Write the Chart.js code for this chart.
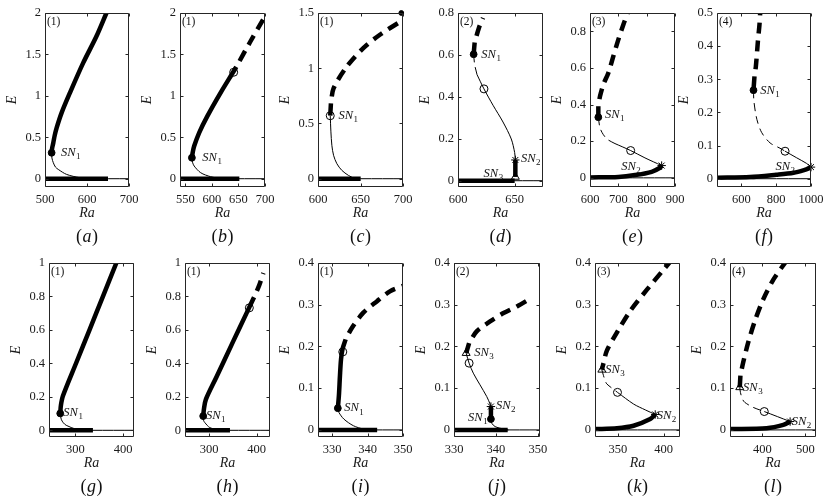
<!DOCTYPE html>
<html>
<head>
<meta charset="utf-8">
<script src="https://cdn.jsdelivr.net/npm/chart.js@4.4.1/dist/chart.umd.min.js"></script>
<style>
  body { margin: 0; background: #fff; width: 831px; height: 504px; position: relative; overflow: hidden; }
  canvas { position: absolute; }
</style>
</head>
<body>
<script>
/* ---- data: [Ra, E] pairs ---- */

// (a)
const aRange = [500, 700, -0.1, 2];
const aTicksX = [500, 600, 700];
const aTicksY = [0, 0.5, 1, 1.5, 2];
const aUpper = [[515.8, 0.313], [517, 0.37], [519.8, 0.434], [523, 0.52], [527.7, 0.614], [539.5, 0.795], [559.3, 1.036], [590.9, 1.398], [622.5, 1.719], [646.2, 2.0]];
const aLower = [[515.8, 0.313], [516.5, 0.25], [519.8, 0.193], [525, 0.14], [531.6, 0.112], [551.4, 0.052], [583, 0.012], [607, 0]];
const aBase = [[500, 0], [650, 0]];
const aSN1 = [515.8, 0.313];

// (b)
const bRange = [540, 700, -0.1, 2];
const bTicksX = [550, 600, 650, 700];
const bTicksY = [0, 0.5, 1, 1.5, 2];
const bUpper = [[562.4, 0.253], [564, 0.32], [566.7, 0.394], [576, 0.554], [591.5, 0.755], [616.3, 1.036], [641.1, 1.297], [646, 1.35]];
const bUpperDash = [[646, 1.35], [672, 1.65], [700, 1.96]];
const bLower = [[562.4, 0.253], [563.5, 0.2], [566.7, 0.153], [579, 0.072], [597.7, 0.024], [616, 0]];
const bBase = [[540, 0], [651.7, 0]];
const bSN1 = [562.4, 0.253];
const bHopf = [641, 1.285];

// (c)
const cRange = [600, 700, -0.075, 1.5];
const cTicksX = [600, 650, 700];
const cTicksY = [0, 0.5, 1, 1.5];
const cUpper = [[614.4, 0.57], [615.2, 0.682]];
const cUpperDash = [[615.2, 0.682], [618.3, 0.818], [633.9, 1.015], [653.3, 1.182], [672.8, 1.303], [696, 1.418]];
const cLower = [[614.4, 0.57], [615.2, 0.424], [616.3, 0.303], [618.3, 0.212], [622.2, 0.136], [628, 0.076], [635.8, 0.03], [643.6, 0]];
const cBase = [[600, 0], [650.2, 0]];
const cSN1 = [614.4, 0.57];
const cEnd = [698, 1.5];

// (d)
const dRange = [600, 675, -0.03, 0.8];
const dTicksX = [600, 650];
const dTicksY = [0, 0.2, 0.4, 0.6, 0.8];
const dUpper = [[613.8, 0.603], [614.7, 0.659]];
const dUpperDash = [[614.7, 0.659], [618.5, 0.73], [622.1, 0.777]];
const dMidDash = [[613.8, 0.603], [614.7, 0.554], [616.8, 0.506]];
const dMid = [[616.8, 0.506], [622.9, 0.438], [630.9, 0.36], [639.7, 0.28], [647, 0.199], [650, 0.134], [650.6, 0.099]];
const dStem = [[650.6, 0.099], [650.6, 0.018]];
const dBase = [[600, 0], [650, 0]];
const dSN1 = [613.8, 0.603];
const dHopf = [622.9, 0.438];
const dSN2 = [650.6, 0.099];
const dSN3 = [650.6, 0.018];

// (e)
const eRange = [600, 900, -0.05, 0.9];
const eTicksX = [600, 700, 800, 900];
const eTicksY = [0, 0.2, 0.4, 0.6, 0.8];
const eUpper = [[629.4, 0.331], [629.4, 0.391]];
const eUpperDash = [[629.4, 0.391], [635.3, 0.445], [647, 0.509], [664.7, 0.573], [682.4, 0.664], [700, 0.755], [717.6, 0.836], [735.3, 0.909]];
const eMidDash = [[629.4, 0.331], [635.3, 0.273], [647, 0.236], [662.4, 0.209], [688.2, 0.187]];
const eMid = [[688.2, 0.187], [743.5, 0.149], [794, 0.109], [852.9, 0.067]];
const eLower = [[600, 0.002], [700, 0.005], [758.8, 0.015], [817.6, 0.033], [847, 0.055], [852.9, 0.067]];
const eSN1 = [629.4, 0.331];
const eHopf = [743.5, 0.149];
const eSN2 = [852.9, 0.067];

// (f)
const fRange = [460, 1000, -0.025, 0.5];
const fTicksX = [600, 800, 1000];
const fTicksY = [0, 0.1, 0.2, 0.3, 0.4, 0.5];
const fUpper = [[669.6, 0.267], [675.3, 0.309]];
const fUpperDash = [[675.3, 0.309], [683.3, 0.339], [694.8, 0.414], [704, 0.465], [708, 0.5]];
const fMidDash = [[669.6, 0.267], [672, 0.234], [689, 0.179], [717, 0.139], [765, 0.108], [822, 0.092], [851, 0.083]];
const fMid = [[851, 0.083], [918, 0.063], [975, 0.046], [1000, 0.035]];
const fLower = [[460, 0.003], [650, 0.005], [800, 0.012], [900, 0.018], [960, 0.026], [990, 0.032], [1000, 0.035]];
const fSN1 = [669.6, 0.267];
const fHopf = [851, 0.083];
const fSN2 = [1000, 0.035];

// (g)
const gRange = [245, 423, -0.04, 1];
const gTicksX = [300, 400];
const gTicksY = [0, 0.2, 0.4, 0.6, 0.8, 1];
const gUpper = [[268.5, 0.101], [270, 0.15], [274.1, 0.205], [302.1, 0.404], [330.1, 0.602], [358, 0.801], [386, 1.0]];
const gLower = [[268.5, 0.101], [270.6, 0.066], [275, 0.045], [281, 0.03], [302, 0.006], [316, 0]];
const gBase = [[245, 0], [337, 0]];
const gSN1 = [268.5, 0.101];

// (h)
const hRange = [249, 428, -0.04, 1];
const hTicksX = [300, 400];
const hTicksY = [0, 0.2, 0.4, 0.6, 0.8, 1];
const hUpper = [[287.3, 0.085], [289, 0.13], [293, 0.185], [315.5, 0.32], [350.7, 0.533], [378.9, 0.702], [394.4, 0.795]];
const hUpperDash = [[394.4, 0.795], [405, 0.865], [414, 0.94]];
const hLower = [[287.3, 0.085], [288, 0.06], [290.8, 0.046], [301.4, 0.016], [322.5, 0]];
const hBase = [[249, 0], [343.7, 0]];
const hSN1 = [287.3, 0.085];
const hHopf = [384.5, 0.732];

// (i)
const iRange = [326, 350, -0.017, 0.4];
const iTicksX = [330, 340, 350];
const iTicksY = [0, 0.1, 0.2, 0.3, 0.4];
const iUpper = [[331.6, 0.052], [331.9, 0.082], [332.2, 0.13], [332.5, 0.169], [332.9, 0.193], [333.8, 0.217]];
const iUpperDash = [[333.8, 0.217], [335.6, 0.245], [338.8, 0.281], [342.6, 0.308], [346.3, 0.332], [350, 0.345]];
const iLower = [[331.6, 0.052], [331.9, 0.042], [333.3, 0.026], [336, 0.01], [338.8, 0.002], [340.7, 0]];
const iBase = [[326, 0], [342.7, 0]];
const iSN1 = [331.6, 0.052];
const iHopf = [333, 0.187];

// (j)
const jRange = [330, 350.5, -0.017, 0.4];
const jTicksX = [330, 340, 350];
const jTicksY = [0, 0.1, 0.2, 0.3, 0.4];
const jUpper = [[332.9, 0.184], [333.6, 0.208]];
const jUpperDash = [[333.6, 0.208], [335.4, 0.236], [338.6, 0.26], [341.8, 0.28], [345, 0.296], [348.4, 0.316]];
const jMid = [[332.9, 0.184], [333.6, 0.16], [334.6, 0.136], [336.2, 0.108], [337.8, 0.08], [338.6, 0.062], [338.8, 0.056]];
const jStem = [[338.8, 0.056], [338.8, 0.026]];
const jLower = [[338.8, 0.026], [339, 0.016], [339.8, 0.008], [341.8, 0.002], [343, 0]];
const jBase = [[330, 0], [342.8, 0]];
const jSN1 = [338.8, 0.026];
const jSN2 = [338.8, 0.056];
const jSN3 = [332.9, 0.184];
const jHopf = [333.6, 0.16];

// (k)
const kRange = [325, 418, -0.017, 0.4];
const kTicksX = [350, 400];
const kTicksY = [0, 0.1, 0.2, 0.3, 0.4];
const kUpper = [[332.5, 0.144], [334.3, 0.16]];
const kUpperDash = [[334.3, 0.16], [338, 0.19], [348.9, 0.233], [363.5, 0.285], [381.8, 0.336], [400, 0.384], [408, 0.405]];
const kMidDash = [[332.5, 0.144], [334.3, 0.13], [336.1, 0.118], [338, 0.11], [349.6, 0.09]];
const kMid = [[349.6, 0.09], [367.2, 0.062], [380, 0.048], [390.9, 0.037]];
const kLower = [[325, 0.002], [349, 0.004], [367.2, 0.01], [385.4, 0.026], [390.9, 0.037]];
const kSN3 = [332.5, 0.144];
const kHopf = [349.6, 0.09];
const kSN2 = [390.9, 0.037];

// (l)
const lRange = [325, 525, -0.017, 0.4];
const lTicksX = [400, 500];
const lTicksY = [0, 0.1, 0.2, 0.3, 0.4];
const lUpper = [[347.7, 0.102], [349.2, 0.13]];
const lUpperDash = [[349.2, 0.13], [355.5, 0.161], [367.2, 0.209], [382.8, 0.261], [402.3, 0.313], [425.8, 0.36], [455.5, 0.404]];
const lMidDash = [[347.7, 0.102], [349.2, 0.09], [353.9, 0.074], [359.4, 0.066], [378.9, 0.054], [404.7, 0.044]];
const lMid = [[404.7, 0.044], [435, 0.032], [464.8, 0.02]];
const lLower = [[325, 0.002], [410, 0.004], [449, 0.012], [464.8, 0.02]];
const lSN3 = [347.7, 0.102];
const lHopf = [404.7, 0.044];
const lSN2 = [464.8, 0.02];

/* ---- panel layout (frame = plot box in page pixels) ---- */
const panels = [
  { letter: 'a', tag: '(1)', frame: [45, 13, 129, 187], range: aRange, tx: aTicksX, ty: aTicksY,
    lines: [[aBase, 'thick'], [aUpper, 'thick'], [aLower, 'thin']],
    marks: [[aSN1, 'dot']],
    notes: [['1', [538, 0.313], 'left']] },
  { letter: 'b', tag: '(1)', frame: [180, 13, 265, 187], range: bRange, tx: bTicksX, ty: bTicksY,
    lines: [[bBase, 'thick'], [bUpper, 'thick'], [bUpperDash, 'thickDash'], [bLower, 'thin']],
    marks: [[bSN1, 'dot'], [bHopf, 'ring']],
    notes: [['1', [582, 0.253], 'left']] },
  { letter: 'c', tag: '(1)', frame: [318, 13, 403, 187], range: cRange, tx: cTicksX, ty: cTicksY,
    lines: [[cBase, 'thick'], [cUpper, 'thick'], [cUpperDash, 'thickDash'], [cLower, 'thin']],
    marks: [[cSN1, 'ring'], [cEnd, 'small']],
    notes: [['1', [624, 0.57], 'left']] },
  { letter: 'd', tag: '(2)', frame: [458, 13, 543, 187], range: dRange, tx: dTicksX, ty: dTicksY,
    lines: [[dBase, 'thick'], [dUpper, 'thick'], [dUpperDash, 'thickDash'], [dMidDash, 'thinDash'], [dMid, 'thin'], [dStem, 'thick']],
    marks: [[dSN1, 'dot'], [dHopf, 'ring'], [dSN2, 'star'], [dSN3, 'tri']],
    notes: [['1', [620.6, 0.603], 'left'], ['2', [655.5, 0.104], 'left'], ['3', [631, 0.033], 'center']] },
  { letter: 'e', tag: '(3)', frame: [590, 13, 675, 187], range: eRange, tx: eTicksX, ty: eTicksY,
    lines: [[eLower, 'thick'], [eUpper, 'thick'], [eUpperDash, 'thickDash'], [eMidDash, 'thinDash'], [eMid, 'thin']],
    marks: [[eSN1, 'dot'], [eHopf, 'ring'], [eSN2, 'star']],
    notes: [['1', [653, 0.345], 'left'], ['2', [744, 0.062], 'center']] },
  { letter: 'f', tag: '(4)', frame: [717, 13, 811, 187], range: fRange, tx: fTicksX, ty: fTicksY,
    lines: [[fLower, 'thick'], [fUpper, 'thick'], [fUpperDash, 'thickDash'], [fMidDash, 'thinDash'], [fMid, 'thin']],
    marks: [[fSN1, 'dot'], [fHopf, 'ring'], [fSN2, 'star']],
    notes: [['1', [708, 0.267], 'left'], ['2', [851, 0.036], 'center']] },
  { letter: 'g', tag: '(1)', frame: [49, 263, 134, 437], range: gRange, tx: gTicksX, ty: gTicksY,
    lines: [[gBase, 'thick'], [gUpper, 'thick'], [gLower, 'thin']],
    marks: [[gSN1, 'dot']],
    notes: [['1', [275, 0.103], 'left']] },
  { letter: 'h', tag: '(1)', frame: [185, 263, 270, 437], range: hRange, tx: hTicksX, ty: hTicksY,
    lines: [[hBase, 'thick'], [hUpper, 'thick'], [hUpperDash, 'thickDash'], [hLower, 'thin']],
    marks: [[hSN1, 'dot'], [hHopf, 'ring']],
    notes: [['1', [293, 0.087], 'left']] },
  { letter: 'i', tag: '(1)', frame: [318, 263, 403, 437], range: iRange, tx: iTicksX, ty: iTicksY,
    lines: [[iBase, 'thick'], [iUpper, 'thick'], [iUpperDash, 'thickDash'], [iLower, 'thin']],
    marks: [[iSN1, 'dot'], [iHopf, 'ring']],
    notes: [['1', [333.4, 0.052], 'left']] },
  { letter: 'j', tag: '(2)', frame: [454, 263, 540, 437], range: jRange, tx: jTicksX, ty: jTicksY,
    lines: [[jBase, 'thick'], [jUpper, 'thick'], [jUpperDash, 'thickDash'], [jMid, 'thin'], [jStem, 'thick'], [jLower, 'thin']],
    marks: [[jSN1, 'dot'], [jSN2, 'star'], [jSN3, 'tri'], [jHopf, 'ring']],
    notes: [['3', [334.8, 0.184], 'left'], ['2', [340, 0.058], 'left'], ['1', [337.9, 0.03], 'right']] },
  { letter: 'k', tag: '(3)', frame: [595, 263, 680, 437], range: kRange, tx: kTicksX, ty: kTicksY,
    lines: [[kLower, 'thick'], [kUpper, 'thick'], [kUpperDash, 'thickDash'], [kMidDash, 'thinDash'], [kMid, 'thin']],
    marks: [[kSN3, 'tri'], [kHopf, 'ring'], [kSN2, 'star']],
    notes: [['3', [336.1, 0.144], 'left'], ['2', [392.5, 0.034], 'left']] },
  { letter: 'l', tag: '(4)', frame: [730, 263, 816, 437], range: lRange, tx: lTicksX, ty: lTicksY,
    lines: [[lLower, 'thick'], [lUpper, 'thick'], [lUpperDash, 'thickDash'], [lMidDash, 'thinDash'], [lMid, 'thin']],
    marks: [[lSN3, 'tri'], [lHopf, 'ring'], [lSN2, 'star']],
    notes: [['3', [355.5, 0.102], 'left'], ['2', [468.5, 0.02], 'left']] },
];

const FONT = '"Liberation Serif", "Times New Roman", serif';
const INK = '#1a1a1a';
const PAD_L = 42, PAD_R = 14, PAD_T = 8, X_H = 35, PAD_B = 26, TICK = 3;

const MARK = {
  dot:   { pointStyle: 'circle',   pointRadius: 3.4, pointBackgroundColor: '#000', pointBorderWidth: 1 },
  small: { pointStyle: 'circle',   pointRadius: 2.4, pointBackgroundColor: '#000', pointBorderWidth: 1 },
  ring:  { pointStyle: 'circle',   pointRadius: 4,   pointBackgroundColor: 'rgba(0,0,0,0)', pointBorderWidth: 1 },
  star:  { pointStyle: 'star',     pointRadius: 4.2, pointBackgroundColor: 'rgba(0,0,0,0)', pointBorderWidth: 1 },
  tri:   { pointStyle: 'triangle', pointRadius: 4.6, pointBackgroundColor: 'rgba(0,0,0,0)', pointBorderWidth: 1 },
};

function lineSet(pts, kind, order) {
  const thick = kind.startsWith('thick');
  const dashed = kind.endsWith('Dash');
  return {
    data: pts.map(p => ({ x: p[0], y: p[1] })),
    showLine: true,
    pointRadius: 0,
    borderColor: '#000',
    borderWidth: thick ? 4.5 : 1,
    borderDash: dashed ? (thick ? [11, 7] : [8, 5]) : [],
    borderDashOffset: dashed ? (thick ? 11 : 0) : 0,
    borderJoinStyle: 'round',
    tension: 0.3,
    clip: 0,
    order: order,
  };
}

function markSet(pt, kind) {
  return Object.assign({
    data: [{ x: pt[0], y: pt[1] }],
    showLine: false,
    pointBorderColor: '#000',
    pointHoverRadius: 0,
    clip: false,
    order: 0,
  }, MARK[kind]);
}

// SN with subscript
function drawSN(ctx, px, py, sub, align) {
  ctx.font = `italic 12.5px ${FONT}`;
  const w1 = ctx.measureText('SN').width;
  ctx.font = `9px ${FONT}`;
  const w2 = ctx.measureText(sub).width;
  let x0 = px;
  if (align === 'right') x0 = px - w1 - w2;
  if (align === 'center') x0 = px - (w1 + w2) / 2;
  ctx.textAlign = 'left';
  ctx.textBaseline = 'middle';
  ctx.font = `italic 12.5px ${FONT}`;
  ctx.fillText('SN', x0, py);
  ctx.font = `9px ${FONT}`;
  ctx.fillText(sub, x0 + w1 + 0.5, py + 4);
}

function drawLetter(ctx, cx, cy, letter) {
  ctx.textBaseline = 'middle';
  ctx.textAlign = 'left';
  ctx.font = `18px ${FONT}`;
  const wp = ctx.measureText('(').width;
  const wq = ctx.measureText(')').width;
  ctx.font = `italic 18px ${FONT}`;
  const wl = ctx.measureText(letter).width;
  const x0 = cx - (wp + wl + wq + 1) / 2;
  ctx.font = `18px ${FONT}`;
  ctx.fillText('(', x0, cy);
  ctx.font = `italic 18px ${FONT}`;
  ctx.fillText(letter, x0 + wp + 0.5, cy);
  ctx.font = `18px ${FONT}`;
  ctx.fillText(')', x0 + wp + wl + 1, cy);
}

const framePlugin = {
  id: 'frame',
  afterDatasetsDraw(chart, args, opts) {
    const { ctx, chartArea: a } = chart;
    const x = chart.scales.x, y = chart.scales.y;
    const L = Math.round(a.left) + 0.5, R = Math.round(a.right) - 0.5;
    const T = Math.round(a.top) + 0.5, B = Math.round(a.bottom) - 0.5;
    ctx.save();
    ctx.strokeStyle = '#262626';
    ctx.lineWidth = 1;
    ctx.beginPath();
    ctx.rect(L, T, R - L, B - T);
    x.ticks.forEach(t => {
      const px = Math.round(x.getPixelForValue(t.value)) + 0.5;
      ctx.moveTo(px, B); ctx.lineTo(px, B - TICK);
      ctx.moveTo(px, T); ctx.lineTo(px, T + TICK);
    });
    y.ticks.forEach(t => {
      const py = Math.round(y.getPixelForValue(t.value)) + 0.5;
      ctx.moveTo(L, py); ctx.lineTo(L + TICK, py);
      ctx.moveTo(R, py); ctx.lineTo(R - TICK, py);
    });
    ctx.stroke();

    ctx.fillStyle = '#111';
    ctx.font = `11.5px ${FONT}`;
    ctx.textAlign = 'left';
    ctx.textBaseline = 'middle';
    ctx.fillText(opts.tag, a.left + 2, a.top + 9);

    opts.notes.forEach(([sub, at, align]) => {
      drawSN(ctx, x.getPixelForValue(at[0]), y.getPixelForValue(at[1]), sub, align);
    });

    drawLetter(ctx, (a.left + a.right) / 2, a.bottom + 50, opts.letter);
    ctx.restore();
  }
};

Chart.defaults.font.family = FONT;
Chart.defaults.color = INK;

panels.forEach(p => {
  const [fl, ft, fr, fb] = p.frame;
  const w = fr - fl + PAD_L + PAD_R;
  const h = fb - ft + PAD_T + X_H + PAD_B;
  const cv = document.createElement('canvas');
  cv.width = w; cv.height = h;
  cv.style.left = (fl - PAD_L) + 'px';
  cv.style.top = (ft - PAD_T) + 'px';
  cv.style.width = w + 'px';
  cv.style.height = h + 'px';
  document.body.appendChild(cv);

  const r = p.range;
  const datasets = [];
  p.marks.forEach(m => datasets.push(markSet(m[0], m[1])));
  p.lines.forEach(l => datasets.push(lineSet(l[0], l[1], 1)));
  datasets.push(lineSet([[r[0], 0], [r[1], 0]], 'thin', 2));

  new Chart(cv, {
    type: 'scatter',
    data: { datasets },
    options: {
      responsive: false,
      animation: false,
      events: [],
      layout: { padding: { left: 0, right: PAD_R, top: PAD_T, bottom: PAD_B } },
      plugins: {
        legend: { display: false },
        tooltip: { enabled: false },
        frame: { tag: p.tag, letter: p.letter, notes: p.notes },
      },
      scales: {
        x: {
          type: 'linear', min: r[0], max: r[1],
          afterBuildTicks: s => { s.ticks = p.tx.map(v => ({ value: v })); },
          afterFit: s => { s.height = X_H; s.paddingLeft = 0; s.paddingRight = 0; },
          grid: { display: false, drawTicks: false },
          border: { display: false },
          ticks: { autoSkip: false, maxRotation: 0, padding: 5, color: INK, font: { family: FONT, size: 12.5 }, callback: v => String(v) },
          title: { display: true, text: 'Ra', color: INK, font: { family: FONT, size: 14, style: 'italic' }, padding: 0 },
        },
        y: {
          type: 'linear', min: r[2], max: r[3],
          afterBuildTicks: s => { s.ticks = p.ty.map(v => ({ value: v })); },
          afterFit: s => { s.width = PAD_L; s.paddingTop = 0; s.paddingBottom = 0; },
          grid: { display: false, drawTicks: false },
          border: { display: false },
          ticks: { autoSkip: false, padding: 4, color: INK, font: { family: FONT, size: 12.5 }, callback: v => String(v) },
          title: { display: true, text: 'E', color: INK, font: { family: FONT, size: 14, style: 'italic' }, padding: { top: 1, bottom: 0 } },
        },
      },
    },
    plugins: [framePlugin],
  });
});
</script>
</body>
</html>
